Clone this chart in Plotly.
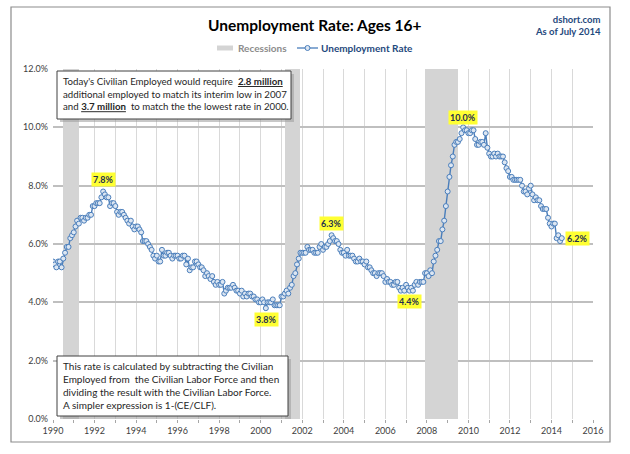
import plotly.graph_objects as go
import pandas as pd

# ---------------- data ----------------
start_month = "1990-01-01"
unemployment_rate = [
    # 1990
    5.4, 5.3, 5.2, 5.4, 5.4, 5.2, 5.5, 5.7, 5.9, 5.9, 6.2, 6.3,
    # 1991
    6.4, 6.6, 6.8, 6.7, 6.9, 6.9, 6.8, 6.9, 6.9, 7.0, 7.0, 7.3,
    # 1992
    7.3, 7.4, 7.4, 7.4, 7.6, 7.8, 7.7, 7.6, 7.6, 7.3, 7.4, 7.4,
    # 1993
    7.3, 7.1, 7.0, 7.1, 7.1, 7.0, 6.9, 6.8, 6.7, 6.8, 6.6, 6.5,
    # 1994
    6.6, 6.6, 6.5, 6.4, 6.1, 6.1, 6.1, 6.0, 5.9, 5.8, 5.6, 5.5,
    # 1995
    5.6, 5.4, 5.4, 5.8, 5.6, 5.6, 5.7, 5.7, 5.6, 5.5, 5.6, 5.6,
    # 1996
    5.6, 5.5, 5.5, 5.6, 5.6, 5.3, 5.5, 5.1, 5.2, 5.2, 5.4, 5.4,
    # 1997
    5.3, 5.2, 5.2, 5.1, 4.9, 5.0, 4.9, 4.8, 4.9, 4.7, 4.6, 4.7,
    # 1998
    4.6, 4.6, 4.7, 4.3, 4.4, 4.5, 4.5, 4.5, 4.6, 4.5, 4.4, 4.4,
    # 1999
    4.3, 4.4, 4.2, 4.3, 4.2, 4.3, 4.3, 4.2, 4.2, 4.1, 4.1, 4.0,
    # 2000
    4.0, 4.1, 4.0, 3.8, 4.0, 4.0, 4.0, 4.1, 3.9, 3.9, 3.9, 3.9,
    # 2001
    4.2, 4.2, 4.3, 4.4, 4.3, 4.5, 4.6, 4.9, 5.0, 5.3, 5.5, 5.7,
    # 2002
    5.7, 5.7, 5.7, 5.9, 5.8, 5.8, 5.8, 5.7, 5.7, 5.7, 5.9, 6.0,
    # 2003
    5.8, 5.9, 5.9, 6.0, 6.1, 6.3, 6.2, 6.1, 6.1, 6.0, 5.8, 5.7,
    # 2004
    5.7, 5.6, 5.8, 5.6, 5.6, 5.6, 5.5, 5.4, 5.4, 5.5, 5.4, 5.4,
    # 2005
    5.3, 5.4, 5.2, 5.2, 5.1, 5.0, 5.0, 4.9, 5.0, 5.0, 5.0, 4.9,
    # 2006
    4.7, 4.8, 4.7, 4.7, 4.6, 4.6, 4.7, 4.7, 4.5, 4.4, 4.5, 4.4,
    # 2007
    4.6, 4.5, 4.4, 4.5, 4.4, 4.6, 4.7, 4.6, 4.7, 4.7, 4.7, 5.0,
    # 2008
    5.0, 4.9, 5.1, 5.0, 5.4, 5.6, 5.8, 6.1, 6.1, 6.5, 6.8, 7.3,
    # 2009
    7.8, 8.3, 8.7, 9.0, 9.4, 9.5, 9.5, 9.6, 9.8, 10.0, 9.9, 9.9,
    # 2010
    9.8, 9.8, 9.9, 9.9, 9.6, 9.4, 9.4, 9.5, 9.5, 9.4, 9.8, 9.3,
    # 2011
    9.1, 9.0, 9.0, 9.1, 9.0, 9.1, 9.0, 9.0, 9.0, 8.8, 8.6, 8.5,
    # 2012
    8.3, 8.3, 8.2, 8.2, 8.2, 8.2, 8.2, 8.0, 7.8, 7.8, 7.7, 7.9,
    # 2013
    8.0, 7.7, 7.5, 7.6, 7.5, 7.5, 7.3, 7.2, 7.2, 7.2, 6.9, 6.7,
    # 2014
    6.6, 6.7, 6.7, 6.2, 6.3, 6.1, 6.2,
]
months = pd.date_range(start_month, periods=len(unemployment_rate), freq="MS")

recession_start = ["1990-07-01", "2001-03-01", "2007-12-01"]
recession_end = ["1991-03-31", "2001-11-30", "2009-06-30"]
recession_height = 12.0

label_dates = ["1992-06-01", "2000-04-01", "2003-06-01", "2007-03-01", "2009-10-01", "2014-07-01"]
label_values = [7.8, 3.8, 6.3, 4.4, 10.0, 6.2]
label_texts = ["7.8%", "3.8%", "6.3%", "4.4%", "10.0%", "6.2%"]

y_ticks = [0, 2, 4, 6, 8, 10, 12]
y_tick_labels = ["0.0%", "2.0%", "4.0%", "6.0%", "8.0%", "10.0%", "12.0%"]
x_range = ["1990-01-01", "2016-01-01"]

title_text = "Unemployment Rate: Ages 16+"
source_text = "dshort.com<br>As of July 2014"
legend_names = ["Recessions", "Unemployment Rate"]
note_top = ("Today's Civilian Employed would require  <b><u>2.8 million</u></b><br>"
            "additional employed to match its interim low in 2007<br>"
            "and <b><u>3.7 million</u></b>  to match the the lowest rate in 2000.")
note_bottom = ("This rate is calculated by subtracting the Civilian<br>"
               "Employed from  the Civilian Labor Force and then<br>"
               "dividing the result with the Civilian Labor Force.<br>"
               "A simpler expression is 1-(CE/CLF).")

# ---------------- figure ----------------
FONT = "Lato"
BLUE = "#4A7EBB"
W, H = 630, 454
ML, MR, MT, MB = 53, 37, 69, 35
PW, PH = W - ML - MR, H - MT - MB

def px_x(px):
    return (px - ML) / PW

def px_y(py):
    return (H - MB - py) / PH

fig = go.Figure()

rs = pd.to_datetime(recession_start)
re_ = pd.to_datetime(recession_end) + pd.Timedelta(days=1)
mids = [a + (b - a) / 2 for a, b in zip(rs, re_)]
widths = [(b - a).total_seconds() * 1000 for a, b in zip(rs, re_)]
fig.add_trace(go.Bar(
    x=mids, y=[recession_height] * len(mids), width=widths,
    marker=dict(color="#D4D4D4", line=dict(width=0)),
    name=legend_names[0], hoverinfo="skip", showlegend=False,
))

fig.add_trace(go.Scatter(
    x=months, y=unemployment_rate, mode="lines+markers",
    line=dict(color=BLUE, width=1.4),
    marker=dict(symbol="circle", size=5, color="#DCE6F2",
                line=dict(color=BLUE, width=1)),
    name=legend_names[1], showlegend=False,
))

# point labels
offsets = [(0, -12), (1, 11), (0, -12), (0, 11), (0, -10), (16, 0)]
for d, v, t, (ax, ay) in zip(label_dates, label_values, label_texts, offsets):
    fig.add_annotation(
        x=d, y=v, text=f"<b>{t}</b>", showarrow=True, arrowcolor="rgba(0,0,0,0)",
        ax=ax, ay=ay, bgcolor="#FFFF33", borderpad=1,
        font=dict(family=FONT, size=9, color="#1F2F4F"),
    )

# text boxes with shadows
def text_box(x0, y0, x1, y1, text, tx, ty, fs):
    fig.add_shape(type="rect", xref="paper", yref="paper",
                  x0=px_x(x0 + 3), x1=px_x(x1 + 3), y0=px_y(y1 + 3), y1=px_y(y0 + 3),
                  fillcolor="#9A9A9A", line=dict(width=0), opacity=0.55, layer="above")
    fig.add_shape(type="rect", xref="paper", yref="paper",
                  x0=px_x(x0), x1=px_x(x1), y0=px_y(y1), y1=px_y(y0),
                  fillcolor="white", line=dict(color="#404040", width=1), layer="above")
    fig.add_annotation(xref="paper", yref="paper", x=px_x(tx), y=px_y(ty),
                       xanchor="left", yanchor="top", align="left", showarrow=False,
                       text=text, font=dict(family=FONT, size=fs, color="#262626"))

text_box(57, 71, 291, 119, note_top, 61, 73, 9.7)
text_box(57, 356, 288, 416, note_bottom, 61, 358, 10)

# outer border
fig.add_shape(type="rect", xref="paper", yref="paper",
              x0=px_x(11), x1=px_x(610), y0=px_y(442), y1=px_y(7),
              line=dict(color="#8C8C8C", width=1.2), fillcolor="rgba(0,0,0,0)")

# title & source
fig.add_annotation(xref="paper", yref="paper", x=px_x(315), y=px_y(25),
                   xanchor="center", yanchor="middle",
                   text=f"<b>{title_text}</b>", showarrow=False,
                   font=dict(family=FONT, size=15.5, color="#000000"))
fig.add_annotation(xref="paper", yref="paper", x=px_x(603), y=px_y(12),
                   xanchor="right", yanchor="top", align="right", showarrow=False,
                   text=f"<b>{source_text}</b>",
                   font=dict(family=FONT, size=9.5, color="#1F497D"))

# manual legend
fig.add_shape(type="rect", xref="paper", yref="paper",
              x0=px_x(217), x1=px_x(233), y0=px_y(50.5), y1=px_y(45.5),
              fillcolor="#D4D4D4", line=dict(width=0))
fig.add_annotation(xref="paper", yref="paper", x=px_x(236), y=px_y(48),
                   xanchor="left", yanchor="middle", showarrow=False,
                   text=f"<b>{legend_names[0]}</b>",
                   font=dict(family=FONT, size=10, color="#8C8C8C"))
fig.add_shape(type="line", xref="paper", yref="paper",
              x0=px_x(297), x1=px_x(318), y0=px_y(48), y1=px_y(48),
              line=dict(color=BLUE, width=1.3))
fig.add_shape(type="circle", xref="paper", yref="paper",
              x0=px_x(305), x1=px_x(310), y0=px_y(50.5), y1=px_y(45.5),
              fillcolor="#DCE6F2", line=dict(color=BLUE, width=1))
fig.add_annotation(xref="paper", yref="paper", x=px_x(319), y=px_y(48),
                   xanchor="left", yanchor="middle", showarrow=False,
                   text=f"<b>{legend_names[1]}</b>",
                   font=dict(family=FONT, size=10, color="#1F497D"))

fig.update_layout(
    width=W, height=H, margin=dict(l=ML, r=MR, t=MT, b=MB, autoexpand=False),
    paper_bgcolor="white", plot_bgcolor="white",
    font=dict(family=FONT, size=9, color="#404040"),
    showlegend=False,
    bargap=0,
    xaxis=dict(type="date", range=x_range, dtick="M24", tick0="1990-01-01", tickformat="%Y",
               showgrid=True, gridcolor="#D9D9D9", gridwidth=1,
               minor=dict(dtick="M12", showgrid=True, gridcolor="#D9D9D9",
                          ticks="outside", ticklen=3, tickcolor="#A6A6A6"),
               ticks="outside", ticklen=3, tickcolor="#A6A6A6", automargin=False,
               showline=False, zeroline=False, tickfont=dict(size=9, color="#404040")),
    yaxis=dict(range=[0, 12], tickvals=y_ticks, ticktext=y_tick_labels,
               showgrid=True, gridcolor="#BFBFBF", gridwidth=1.5, zeroline=False,
               automargin=False, ticklabelstandoff=4,
               showline=False, tickfont=dict(size=9, color="#404040"), ticks=""),
)

fig.write_html("out.html", config={"displayModeBar": False},
               post_script="document.body.style.margin='0';document.body.style.overflow='hidden';")
